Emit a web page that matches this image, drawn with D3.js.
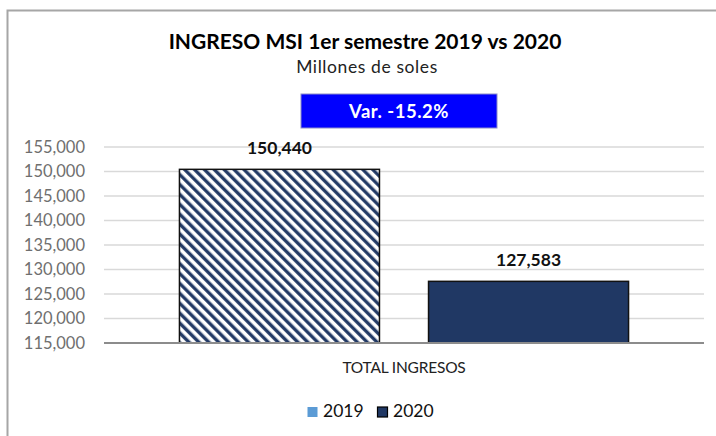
<!DOCTYPE html>
<html>
<head>
<meta charset="utf-8">
<script src="https://cdn.jsdelivr.net/npm/d3@7"></script>
<style>
  body { margin: 0; background: #fff; }
  text { font-family: Lato, "Open Sans", sans-serif; }
</style>
</head>
<body>
<div id="chart"></div>
<script>
'use strict';

const category = ['TOTAL INGRESOS'];
const years = ['2019', '2020'];
const ingresos = [150440, 127583];
const yTicks = [115000, 120000, 125000, 130000, 135000, 140000, 145000, 150000, 155000];
const variacion = 'Var. -15.2%';

const width = 716;
const height = 436;
const margin = { top: 147, right: 12, bottom: 93, left: 104 };
const plotW = width - margin.left - margin.right;
const plotH = height - margin.top - margin.bottom;

const navy = '#203864';

let svg = d3.select('#chart').append('svg')
    .attr('width', width)
    .attr('height', height);

let defs = svg.append('defs');
let pat = defs.append('pattern')
    .attr('id', 'hatch')
    .attr('patternUnits', 'userSpaceOnUse')
    .attr('width', 7)
    .attr('height', 7)
    .attr('patternTransform', 'rotate(-45)');
pat.append('rect').attr('width', 7).attr('height', 7).attr('fill', '#fff');
pat.append('line')
    .attr('x1', 1.75).attr('y1', 0)
    .attr('x2', 1.75).attr('y2', 7)
    .attr('stroke', navy)
    .attr('stroke-width', 3.3);

// chart frame (runs off the right / bottom edge like the screenshot)
svg.append('rect')
    .attr('x', 7.5).attr('y', 10.5)
    .attr('width', 730).attr('height', 450)
    .attr('fill', 'none')
    .attr('stroke', '#a6a6a6')
    .attr('stroke-width', 2);

svg.append('text')
    .text('INGRESO MSI 1er semestre 2019 vs 2020')
    .attr('x', 365).attr('y', 49)
    .attr('text-anchor', 'middle')
    .style('font-size', '21px')
    .style('font-weight', 'bold')
    .style('fill', '#000');

svg.append('text')
    .text('Millones de soles')
    .attr('x', 367).attr('y', 73)
    .attr('text-anchor', 'middle')
    .style('font-size', '17.5px')
    .style('letter-spacing', '0.6px')
    .style('fill', '#222');

svg.append('rect')
    .attr('x', 301).attr('y', 94)
    .attr('width', 196).attr('height', 34)
    .attr('fill', '#0000ff')
    .attr('stroke', '#8c8cc8')
    .attr('stroke-width', 1);

svg.append('text')
    .text(variacion)
    .attr('x', 399).attr('y', 118)
    .attr('text-anchor', 'middle')
    .style('font-size', '18.5px')
    .style('font-weight', 'bold')
    .style('letter-spacing', '0.5px')
    .style('fill', '#fff');

let g = svg.append('g')
    .attr('transform', 'translate(' + margin.left + ',' + margin.top + ')');

let y = d3.scaleLinear().domain([115000, 155000]).range([plotH, 0]);
let x0 = d3.scaleBand().domain(category).range([0, plotW]).paddingOuter(0.168).paddingInner(0);
let x1 = d3.scaleBand().domain(years).range([0, x0.bandwidth()]).paddingInner(0.197).paddingOuter(0);

g.selectAll('.grid')
    .data(yTicks.slice(1))
    .enter().append('line')
    .attr('class', 'grid')
    .attr('x1', 0).attr('x2', plotW)
    .attr('y1', d => y(d)).attr('y2', d => y(d))
    .attr('stroke', '#d9d9d9')
    .attr('stroke-width', 1.5);

let yAxis = g.append('g')
    .call(d3.axisLeft(y).tickValues(yTicks).tickSize(0).tickPadding(19).tickFormat(d3.format(',')));
yAxis.select('.domain').remove();
yAxis.selectAll('text')
    .style('font-size', '16.5px')
    .style('font-family', 'Lato, sans-serif')
    .style('fill', '#6f6f6f');

let bars = g.append('g')
    .attr('transform', 'translate(' + x0(category[0]) + ',0)');

bars.selectAll('rect')
    .data(ingresos)
    .enter().append('rect')
    .attr('x', (d, i) => x1(years[i]))
    .attr('y', d => y(d))
    .attr('width', x1.bandwidth())
    .attr('height', d => plotH - y(d))
    .attr('fill', (d, i) => i === 0 ? 'url(#hatch)' : navy)
    .attr('stroke', '#111')
    .attr('stroke-width', 1.5);

bars.selectAll('.lbl')
    .data(ingresos)
    .enter().append('text')
    .attr('class', 'lbl')
    .text(d => d3.format(',')(d))
    .attr('x', (d, i) => x1(years[i]) + x1.bandwidth() / 2)
    .attr('y', d => y(d) - 15)
    .attr('text-anchor', 'middle')
    .style('font-size', '17.5px')
    .style('font-weight', 'bold')
    .style('fill', '#111');

// baseline
g.append('line')
    .attr('x1', 0).attr('x2', plotW)
    .attr('y1', plotH).attr('y2', plotH)
    .attr('stroke', '#8c8c8c')
    .attr('stroke-width', 2);

g.append('text')
    .text(category[0])
    .attr('x', x0(category[0]) + x0.bandwidth() / 2)
    .attr('y', plotH + 30)
    .attr('text-anchor', 'middle')
    .style('font-size', '15.5px')
    .style('letter-spacing', '-0.2px')
    .style('fill', '#222');

// legend
const legendColors = ['#5b9bd5', navy];
let legend = svg.append('g').attr('transform', 'translate(307,404)');
let items = legend.selectAll('g')
    .data(years)
    .enter().append('g')
    .attr('transform', (d, i) => 'translate(' + (i * 70) + ',0)');
items.append('rect')
    .attr('x', 0.5).attr('y', 3)
    .attr('width', 10).attr('height', 10)
    .attr('fill', (d, i) => legendColors[i])
    .attr('stroke', (d, i) => i === 1 ? '#000' : 'none')
    .attr('stroke-width', 1.2);
items.append('text')
    .text(d => d)
    .attr('x', 16).attr('y', 13)
    .style('font-size', '17.5px')
    .style('fill', '#111');
</script>
</body>
</html>
